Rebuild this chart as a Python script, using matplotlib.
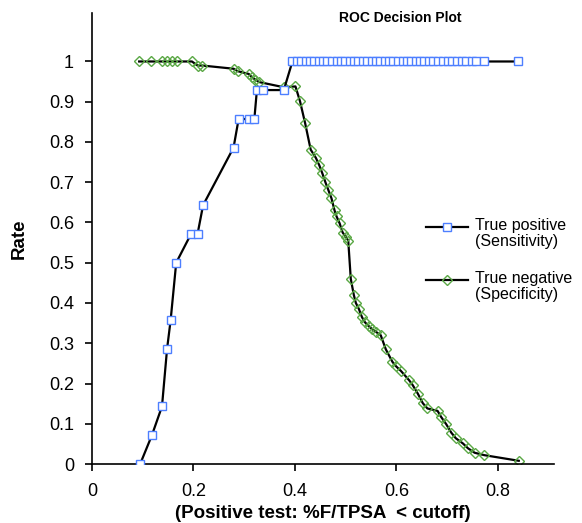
import matplotlib
matplotlib.use("Agg")
import matplotlib.pyplot as plt
from matplotlib.lines import Line2D

plt.rcParams["font.family"] = ["Liberation Sans", "DejaVu Sans"]

# =====================
# Data
# =====================

# True positive (Sensitivity)
sens_x = [0.095, 0.118, 0.138, 0.148, 0.155, 0.166, 0.195, 0.208, 0.219, 0.279,
          0.289, 0.309, 0.320, 0.325, 0.338, 0.378,
          0.395, 0.404, 0.412, 0.421, 0.430, 0.438, 0.447, 0.456, 0.464, 0.473,
          0.482, 0.490, 0.499, 0.508, 0.516, 0.525, 0.534, 0.542, 0.551, 0.560,
          0.568, 0.577, 0.586, 0.594, 0.603, 0.612, 0.620, 0.629, 0.638, 0.646,
          0.655, 0.664,
          0.673, 0.682, 0.692, 0.701, 0.710, 0.720, 0.729, 0.738, 0.748, 0.757,
          0.773, 0.840]
sens_y = [0.0, 0.071, 0.143, 0.286, 0.357, 0.5, 0.571, 0.571, 0.643, 0.786,
          0.857, 0.857, 0.857, 0.929, 0.929, 0.929] + [1.0] * 44

# True negative (Specificity)
spec_x = [0.093, 0.117, 0.138, 0.147, 0.157, 0.167, 0.197, 0.208, 0.217, 0.279,
          0.287, 0.309, 0.315, 0.322, 0.329, 0.378, 0.401, 0.410, 0.420, 0.431,
          0.441, 0.448, 0.454, 0.460, 0.466, 0.472, 0.478, 0.482, 0.488, 0.494,
          0.500, 0.505, 0.510, 0.516, 0.520, 0.526, 0.532, 0.538, 0.545, 0.552,
          0.560, 0.569, 0.579, 0.592, 0.599, 0.609, 0.625, 0.632, 0.642, 0.652,
          0.661, 0.681, 0.688, 0.698, 0.708, 0.717, 0.731, 0.741, 0.754, 0.773,
          0.841]
spec_y = [1.0, 1.0, 1.0, 1.0, 1.0, 1.0, 1.0, 0.99, 0.99, 0.982,
          0.976, 0.969, 0.961, 0.955, 0.949, 0.936, 0.938, 0.901, 0.847, 0.781,
          0.761, 0.742, 0.722, 0.700, 0.680, 0.660, 0.630, 0.615, 0.598, 0.575,
          0.565, 0.555, 0.460, 0.420, 0.400, 0.385, 0.365, 0.352, 0.343, 0.335,
          0.328, 0.320, 0.285, 0.254, 0.243, 0.231, 0.208, 0.196, 0.175, 0.151,
          0.138, 0.132, 0.117, 0.099, 0.078, 0.064, 0.051, 0.039, 0.028, 0.022,
          0.008]

x_ticks = [0, 0.2, 0.4, 0.6, 0.8]
x_tick_labels = ["0", "0.2", "0.4", "0.6", "0.8"]
y_ticks = [0, 0.1, 0.2, 0.3, 0.4, 0.5, 0.6, 0.7, 0.8, 0.9, 1.0]
y_tick_labels = ["0", "0.1", "0.2", "0.3", "0.4", "0.5", "0.6", "0.7", "0.8", "0.9", "1"]

series_labels = ["True positive\n(Sensitivity)", "True negative\n(Specificity)"]

BLUE = "#4d7fff"
GREEN = "#5aa845"

# =====================
# Plot
# =====================

fig = plt.figure(figsize=(5.82, 5.23), dpi=100)
ax = fig.add_axes([0.158, 0.1128, 0.7935, 0.862])

ax.plot(sens_x, sens_y, color="black", linewidth=1.6, marker="s", markersize=5.5,
        markerfacecolor="white", markeredgecolor=BLUE, markeredgewidth=1.0, zorder=3)
ax.plot(spec_x, spec_y, color="black", linewidth=1.6, marker="D", markersize=5.5,
        markerfacecolor="none", markeredgecolor=GREEN, markeredgewidth=1.0, zorder=2)

ax.set_xlim(0, 0.91)
ax.set_ylim(0, 1.12)
ax.set_xticks(x_ticks)
ax.set_xticklabels(x_tick_labels)
ax.set_yticks(y_ticks)
ax.set_yticklabels(y_tick_labels)
ax.tick_params(direction="out", length=5, width=1.2, labelsize=13)
ax.tick_params(axis="x", pad=9)
ax.tick_params(axis="y", pad=8)

for side in ["top", "right"]:
    ax.spines[side].set_visible(False)
for side in ["left", "bottom"]:
    ax.spines[side].set_linewidth(1.2)

ax.set_xlabel("(Positive test: %F/TPSA  < cutoff)", fontsize=13.5,
              fontweight="bold", labelpad=3)
ax.set_ylabel("Rate", fontsize=13.5, fontweight="bold", labelpad=15)

fig.text(400 / 582, 1 - 18 / 523, "ROC Decision Plot", fontsize=10,
         fontweight="bold", ha="center", va="center")

# =====================
# Legend (handle sits on the first text line, like the original)
# =====================

W, H = 582, 523
legend_rows = [227, 280]
legend_styles = [dict(marker="s", markersize=5.5, markerfacecolor="white",
                      markeredgecolor=BLUE),
                 dict(marker="D", markersize=5.5, markerfacecolor="none",
                      markeredgecolor=GREEN)]
for row, label, style in zip(legend_rows, series_labels, legend_styles):
    yf = 1 - row / H
    fig.add_artist(Line2D([426 / W, 468 / W], [yf, yf], color="black",
                          linewidth=1.6, transform=fig.transFigure))
    fig.add_artist(Line2D([447 / W], [yf], linestyle="none", markeredgewidth=1.0,
                          transform=fig.transFigure, **style))
    fig.text(475 / W, yf + 9 / H, label, fontsize=11.5, ha="left", va="top",
             linespacing=1.05)

plt.savefig("out.png", dpi=100)
plt.close()
